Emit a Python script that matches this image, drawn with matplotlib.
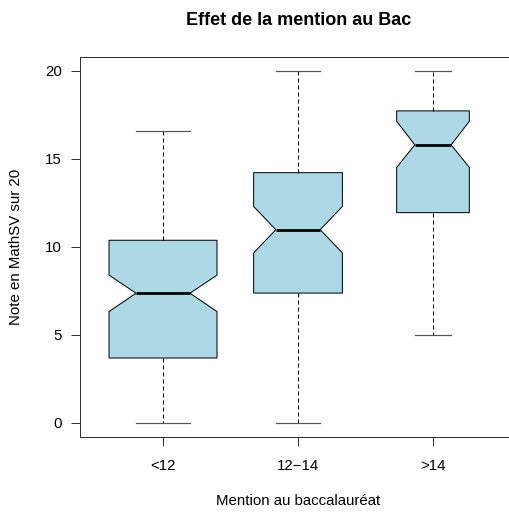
import matplotlib
matplotlib.use("Agg")
import matplotlib.pyplot as plt

categories = ["<12", "12\u221214", ">14"]
whislo = [0.0, 0.0, 5.0]
q1 = [3.67, 7.36, 11.93]
med = [7.35, 10.96, 15.78]
q3 = [10.36, 14.20, 17.71]
whishi = [16.55, 20.0, 20.0]
cilo = [6.31, 9.64, 14.50]
cihi = [8.38, 12.28, 17.12]
rel_n = [1.0, 0.822, 0.673]   # relative sqrt(n) (varwidth)
yticks = [0, 5, 10, 15, 20]

plt.rcParams['font.family'] = ['Liberation Sans', 'DejaVu Sans']

W, H = 510, 512
dpi = 100
fig = plt.figure(figsize=(W / dpi, H / dpi), dpi=dpi)
px = 72.0 / dpi  # one pixel in points

ax = fig.add_axes([80 / W, (H - 436.7) / H, 436 / W, 380.2 / H])

stats = []
for i in range(3):
    stats.append(dict(med=med[i], q1=q1[i], q3=q3[i], whislo=whislo[i],
                      whishi=whishi[i], cilo=cilo[i], cihi=cihi[i], fliers=[]))

ax.bxp(stats, positions=[1, 2, 3], widths=[0.8 * r for r in rel_n],
       shownotches=True, patch_artist=True, showfliers=False,
       boxprops=dict(facecolor="#ADD8E6", edgecolor="black", linewidth=1.0 * px),
       medianprops=dict(color="black", linewidth=2.8 * px, solid_capstyle="butt"),
       whiskerprops=dict(color="black", linewidth=1.0 * px, linestyle=(0, (4, 3))),
       capprops=dict(color="#555555", linewidth=1.2 * px))

ax.set_xlim(0.385, 3.615)
ax.set_ylim(-0.8, 20.8)
ax.set_yticks(yticks)
ax.set_yticklabels([str(v) for v in yticks])
ax.set_xticks([1, 2, 3])
ax.set_xticklabels(categories)
ax.tick_params(axis="both", length=9 * px, width=1.0 * px, color="#333333",
               labelsize=15 * px, pad=9 * px)
ax.tick_params(axis="x", pad=13 * px)
for s in ax.spines.values():
    s.set_linewidth(1.0 * px)
    s.set_color("#333333")
ax.spines["right"].set_visible(False)

fig.text(298.5 / W, 1 - 20.5 / H, "Effet de la mention au Bac", ha="center",
         va="center", fontsize=18 * px, fontweight="bold")
fig.text(298.5 / W, 1 - 501 / H, "Mention au baccalauréat", ha="center",
         va="center", fontsize=15 * px)
fig.text(16.3 / W, 1 - 246.6 / H, "Note en MathSV sur 20", ha="center",
         va="center", rotation=90, fontsize=15 * px)

fig.savefig("out.png", dpi=dpi)
